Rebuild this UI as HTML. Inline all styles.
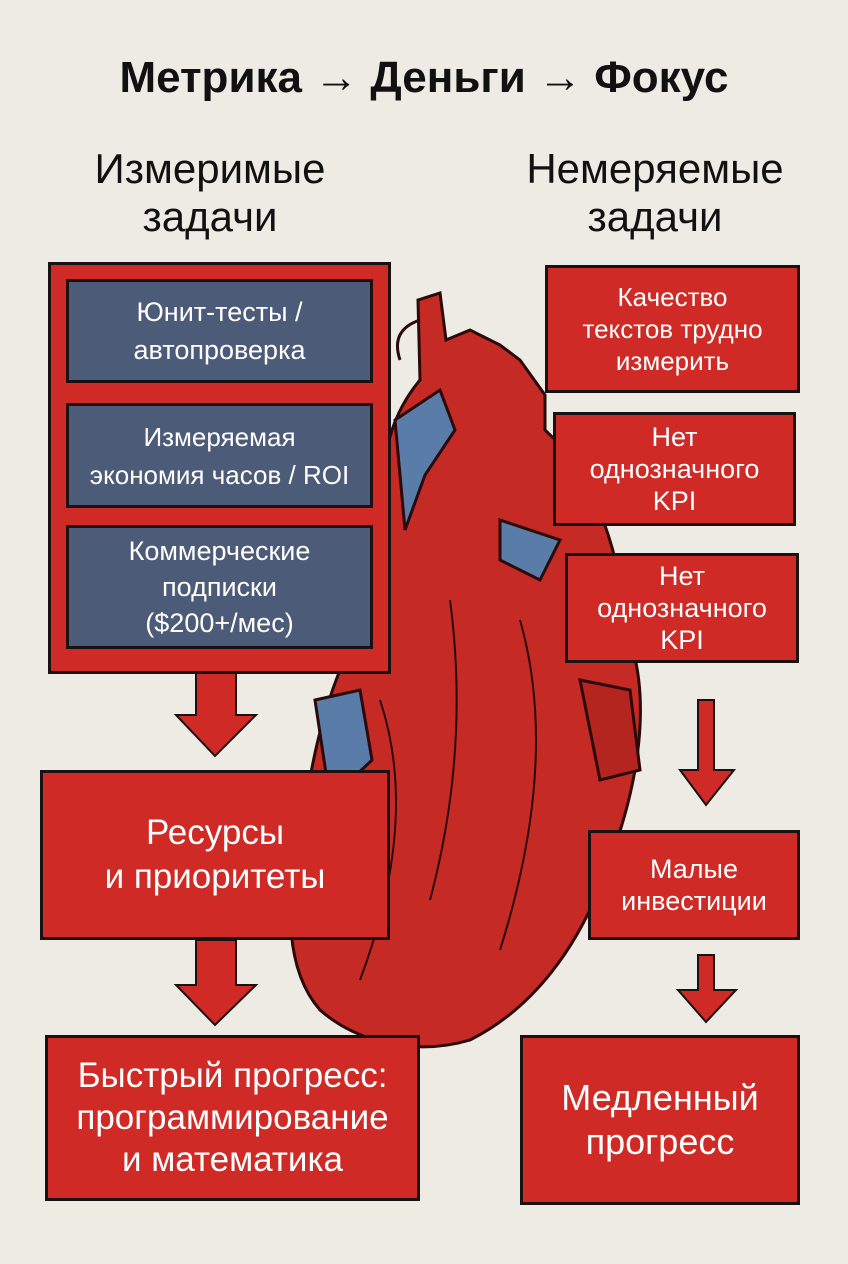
<!DOCTYPE html>
<html><head><meta charset="utf-8"><style>
html,body{margin:0;padding:0}
body{width:848px;height:1264px;background:#eeebe5;position:relative;overflow:hidden;font-family:"Liberation Sans","DejaVu Sans",sans-serif}
.t{position:absolute;text-align:center;color:#111}
.b{position:absolute;box-sizing:border-box;border:3px solid #1a1212;display:flex;align-items:center;justify-content:center;text-align:center;color:#fff}
.r{background:#cf2a25}
.bl{background:#4c5b78;font-size:27px;line-height:38px}
.s{font-size:27px;line-height:32px}
</style></head><body>
<svg width="848" height="1264" style="position:absolute;left:0;top:0">
<g stroke="#2a0a0a" stroke-width="3">
<path d="M418 300 L440 293 L446 340 L470 330 L500 345 L520 360 L545 395 L545 430 C600 480 620 560 630 640 C650 700 640 780 610 860 C580 950 530 1010 470 1040 C420 1055 360 1045 320 1010 C285 970 285 900 300 840 C310 770 320 720 340 670 C370 610 390 560 385 500 C380 450 395 410 420 380 Z" fill="#c52a24"/>
<path d="M395 420 L440 390 L455 430 L425 475 L405 530 Z" fill="#5a7ca8"/>
<path d="M315 700 L360 690 L372 760 L330 800 Z" fill="#5a7ca8"/>
<path d="M500 520 L560 540 L540 580 L500 560 Z" fill="#5a7ca8"/>
<path d="M580 680 L630 690 L640 770 L600 780 Z" fill="#b42520"/>
<path d="M400 360 Q390 330 420 320" fill="none"/>
<path d="M450 600 Q470 750 430 900 M520 620 Q560 760 500 950 M380 700 Q420 820 360 980" fill="none" stroke-width="2"/>
</g>
<g fill="#cf2a25" stroke="#1a1212" stroke-width="2">
<path d="M196 672 L236 672 L236 715 L256 715 L215 756 L176 715 L196 715 Z"/>
<path d="M196 940 L236 940 L236 985 L256 985 L215 1025 L176 985 L196 985 Z"/>
<path d="M698 700 L714 700 L714 770 L734 770 L706 805 L680 770 L698 770 Z"/>
<path d="M698 955 L714 955 L714 990 L736 990 L706 1022 L678 990 L698 990 Z"/>
</g>
</svg>
<div class="t" style="left:0;width:848px;top:53px;font-size:44px;font-weight:bold">Метрика → Деньги → Фокус</div>
<div class="t" style="left:10px;width:400px;top:145px;font-size:42px;line-height:48px">Измеримые<br>задачи</div>
<div class="t" style="left:455px;width:400px;top:145px;font-size:42px;line-height:48px">Немеряемые<br>задачи</div>
<div class="b r" style="left:48px;top:262px;width:343px;height:412px"></div>
<div class="b bl" style="left:66px;top:279px;width:307px;height:104px">Юнит-тесты /<br>автопроверка</div>
<div class="b bl" style="left:66px;top:403px;width:307px;height:105px;font-size:26px">Измеряемая<br>экономия часов / ROI</div>
<div class="b bl" style="left:66px;top:525px;width:307px;height:124px;line-height:36px">Коммерческие<br>подписки<br>($200+/мес)</div>
<div class="b r" style="left:40px;top:770px;width:350px;height:170px;font-size:35px;line-height:44px">Ресурсы<br>и приоритеты</div>
<div class="b r" style="left:45px;top:1035px;width:375px;height:166px;font-size:35px;line-height:42px">Быстрый прогресс:<br>программирование<br>и математика</div>
<div class="b r s" style="left:545px;top:265px;width:255px;height:128px;font-size:26px">Качество<br>текстов трудно<br>измерить</div>
<div class="b r s" style="left:553px;top:412px;width:243px;height:114px">Нет<br>однозначного<br>KPI</div>
<div class="b r s" style="left:565px;top:553px;width:234px;height:110px">Нет<br>однозначного<br>KPI</div>
<div class="b r s" style="left:588px;top:830px;width:212px;height:110px">Малые<br>инвестиции</div>
<div class="b r" style="left:520px;top:1035px;width:280px;height:170px;font-size:36px;line-height:44px">Медленный<br>прогресс</div>
</body></html>
